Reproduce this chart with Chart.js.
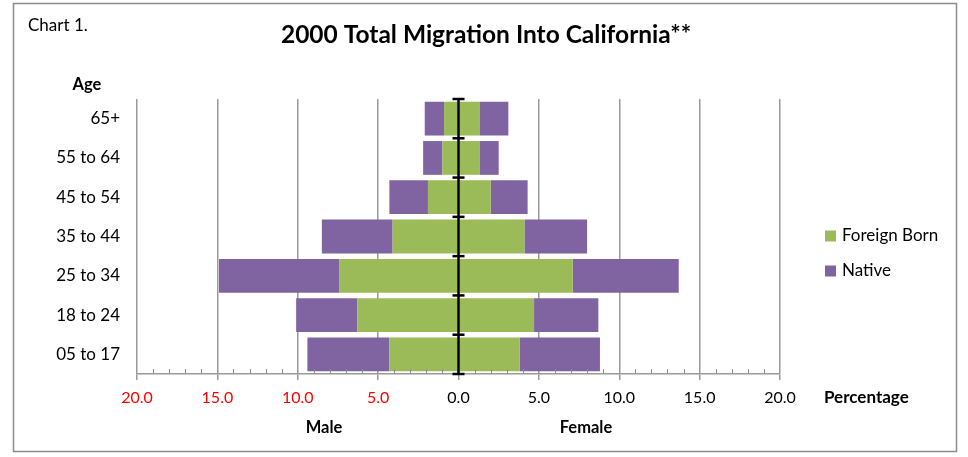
<!DOCTYPE html>
<html>
<head>
<meta charset="utf-8">
<script src="https://cdn.jsdelivr.net/npm/chart.js@4/dist/chart.umd.min.js"></script>
<style>
html,body{margin:0;padding:0;background:#fff;}
#wrap{position:relative;width:968px;height:457px;}
canvas{display:block;}
</style>
</head>
<body>
<div id="wrap"><canvas id="c" width="968" height="457"></canvas></div>
<script>
// ---- data (top-to-bottom order as shown) ----
const categories = ['65+', '55 to 64', '45 to 54', '35 to 44', '25 to 34', '18 to 24', '05 to 17'];
const maleForeign   = [0.9, 1.0, 1.9, 4.1, 7.4, 6.3, 4.3];
const maleNative    = [1.2, 1.2, 2.4, 4.4, 7.5, 3.8, 5.1];
const femaleForeign = [1.3, 1.3, 2.0, 4.1, 7.1, 4.7, 3.8];
const femaleNative  = [1.8, 1.2, 2.3, 3.9, 6.6, 4.0, 5.0];
const xTickValues = [-20, -15, -10, -5, 0, 5, 10, 15, 20];

const GREEN = '#9BBB59';
const PURPLE = '#8064A2';
const FONT = 'Lato, "Open Sans", sans-serif';

const extras = {
  id: 'extras',
  afterDatasetsDraw(chart) {
    const ctx = chart.ctx;
    const x = chart.scales.x, y = chart.scales.y;
    const ca = chart.chartArea;
    const x0 = x.getPixelForValue(0);
    ctx.save();
    ctx.strokeStyle = '#000';
    ctx.lineWidth = 2.5;
    ctx.beginPath();
    ctx.moveTo(x0, ca.top);
    ctx.lineTo(x0, ca.bottom);
    ctx.stroke();
    // cross ticks at category boundaries
    const n = categories.length;
    for (let i = 0; i <= n; i++) {
      const yy = y.getPixelForValue(i - 0.5);
      ctx.beginPath();
      ctx.moveTo(x0 - 6, yy);
      ctx.lineTo(x0 + 6, yy);
      ctx.stroke();
    }
    ctx.restore();
  },
  afterDraw(chart) {
    const ctx = chart.ctx;
    const x = chart.scales.x;
    const ca = chart.chartArea;
    ctx.save();
    // minor ticks
    ctx.strokeStyle = '#8c8c8c';
    ctx.lineWidth = 1;
    for (let v = -20; v <= 20; v++) {
      if (v % 5 === 0) continue;
      const px = Math.round(x.getPixelForValue(v)) + 0.5;
      ctx.beginPath();
      ctx.moveTo(px, ca.bottom);
      ctx.lineTo(px, ca.bottom - 5);
      ctx.stroke();
    }
    // border
    ctx.strokeStyle = '#8c8c8c';
    ctx.lineWidth = 1.5;
    ctx.strokeRect(13.5, 3.5, 943, 448);
    // texts
    ctx.fillStyle = '#000';
    ctx.textBaseline = 'middle';
    ctx.textAlign = 'left';
    ctx.font = '17px ' + FONT;
    ctx.fillText('Chart 1.', 28, 26);
    ctx.textAlign = 'center';
    ctx.font = 'bold 24.5px ' + FONT;
    ctx.fillText('2000 Total Migration Into California**', 486, 35);
    ctx.font = 'bold 16.5px ' + FONT;
    ctx.fillText('Age', 87, 85);
    ctx.fillText('Male', 324, 428);
    ctx.fillText('Female', 586, 428);
    ctx.textAlign = 'left';
    ctx.font = 'bold 17px ' + FONT;
    ctx.fillText('Percentage', 824, 398);
    // legend
    const items = [['Foreign Born', GREEN, 236], ['Native', PURPLE, 271]];
    ctx.font = '17px ' + FONT;
    items.forEach(([t, c, yy]) => {
      ctx.fillStyle = c;
      ctx.fillRect(825, yy - 5.5, 11, 11);
      ctx.fillStyle = '#000';
      ctx.fillText(t, 842, yy);
    });
    ctx.restore();
  }
};

new Chart(document.getElementById('c'), {
  type: 'bar',
  data: {
    labels: categories,
    datasets: [
      { label: 'Foreign Born', data: maleForeign.map(v => -v), backgroundColor: GREEN },
      { label: 'Native', data: maleNative.map(v => -v), backgroundColor: PURPLE },
      { label: 'Foreign Born', data: femaleForeign, backgroundColor: GREEN },
      { label: 'Native', data: femaleNative, backgroundColor: PURPLE }
    ]
  },
  options: {
    indexAxis: 'y',
    responsive: false,
    animation: false,
    devicePixelRatio: 1,
    datasets: { bar: { barPercentage: 0.86, categoryPercentage: 1.0, borderWidth: 0 } },
    layout: { padding: { left: 13, right: 188, top: 99, bottom: 0 } },
    plugins: { legend: { display: false }, title: { display: false }, tooltip: { enabled: false } },
    scales: {
      x: {
        type: 'linear',
        stacked: true,
        min: -20, max: 20,
        afterBuildTicks: s => { s.ticks = xTickValues.map(v => ({ value: v })); },
        afterFit: s => { s.height = 83; },
        grid: { color: '#9a9a9a', lineWidth: 1.5, tickLength: 6, drawTicks: true },
        border: { display: true, color: '#9a9a9a', width: 1.5 },
        ticks: {
          padding: 8,
          font: { family: FONT, size: 16 },
          color: c => (c.tick && c.tick.value < 0) ? '#ff0000' : '#000000',
          callback: v => Math.abs(v).toFixed(1),
          maxRotation: 0
        }
      },
      y: {
        stacked: true,
        afterFit: s => { s.width = 124; },
        grid: { display: false },
        border: { display: false },
        ticks: { padding: 9, font: { family: FONT, size: 17 }, color: '#000' }
      }
    }
  },
  plugins: [extras]
});
</script>
</body>
</html>
